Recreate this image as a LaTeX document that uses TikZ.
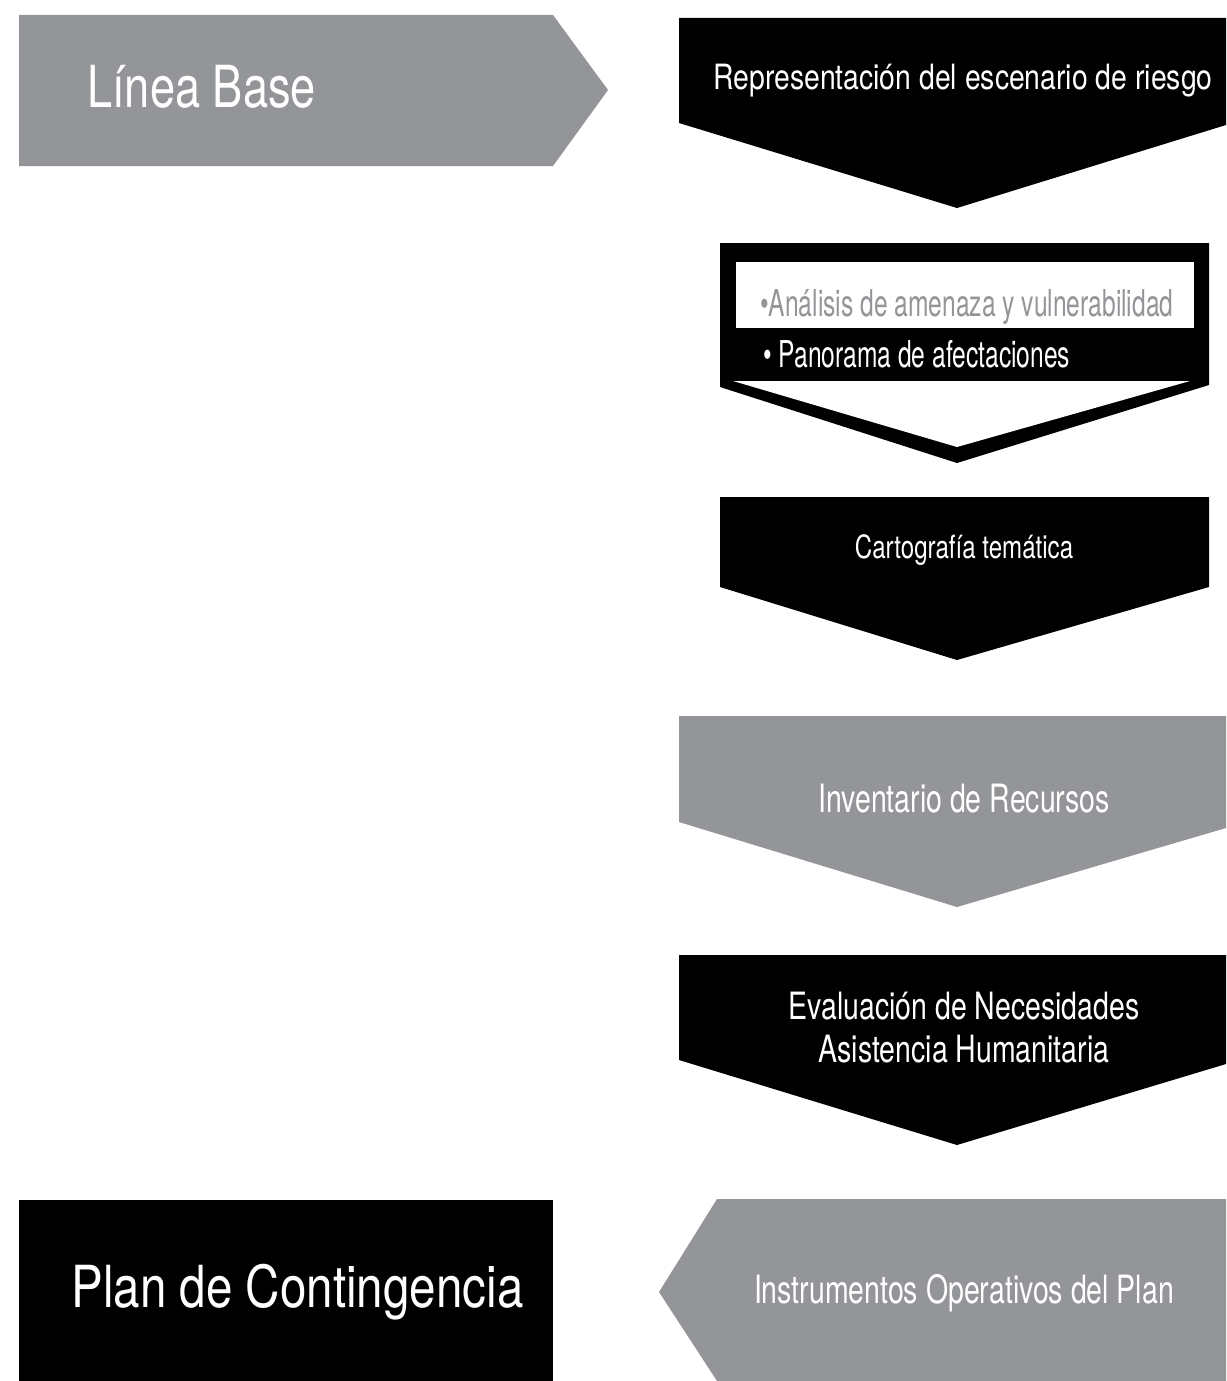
\documentclass[tikz,border=0pt]{standalone}
\usepackage{fontspec}
\setmainfont{TeX Gyre Heros}
\newfontfamily\fR{TeX Gyre Heros}[FakeStretch=0.815]
\newfontfamily\fB{TeX Gyre Heros}[FakeStretch=0.665]
\newfontfamily\fC{TeX Gyre Heros}[FakeStretch=0.753]
\newfontfamily\fI{TeX Gyre Heros}[FakeStretch=0.73]
\newfontfamily\fE{TeX Gyre Heros}[FakeStretch=0.757]
\newfontfamily\fL{TeX Gyre Heros}[FakeStretch=0.78]
\newfontfamily\fP{TeX Gyre Heros}[FakeStretch=0.82]
\definecolor{gr}{HTML}{939598}
\begin{document}
\begin{tikzpicture}[x=1pt,y=-1pt,
  txt/.style={text=white,inner sep=0pt},
  greyshape/.style={fill=gr},
  blackshape/.style={fill=black}]
\useasboundingbox (0,0) rectangle (1226,1381);
% Linea Base
\fill[greyshape] (19,15) -- (553,15) -- (608,90) -- (553,166) -- (19,166) -- cycle;
\node[txt,anchor=base west,font=\fL\fontsize{58}{66}\selectfont] (lb) at (87,107) {Línea Base};
% 1
\fill[blackshape] (679,18) -- (1226,18) -- (1226,125) -- (957,208) -- (679,123) -- cycle;
\node[txt,anchor=base,font=\fR\fontsize{34.8}{40}\selectfont] (t1) at (963,89) {Representación del escenario de riesgo};
% 2
\fill[blackshape] (720,243) -- (1209,243) -- (1209,385) -- (957,463) -- (720,387) -- cycle;
\fill[white] (736,262) rectangle (1194,328);
\fill[white] (733,381) -- (1190,381) -- (957,447) -- cycle;
\node[txt,anchor=base west,text=gr,font=\fB\fontsize{37}{44}\selectfont] (t2a) at (760,316) {\textbullet Análisis de amenaza y vulnerabilidad};
\node[txt,anchor=base west,font=\fB\fontsize{37}{44}\selectfont] (t2b) at (763,367) {\textbullet\ Panorama de afectaciones};
% 3
\fill[blackshape] (720,497) -- (1209,497) -- (1209,587) -- (957,660) -- (720,587) -- cycle;
\node[txt,anchor=base,font=\fC\fontsize{32}{38}\selectfont] (t3) at (964,558) {Cartografía temática};
% 4
\fill[greyshape] (679,716) -- (1226,716) -- (1226,828) -- (957,907) -- (679,822) -- cycle;
\node[txt,anchor=base,font=\fI\fontsize{39}{45}\selectfont] (t4) at (964,812) {Inventario de Recursos};
% 5
\fill[blackshape] (679,955) -- (1226,955) -- (1226,1064) -- (957,1145) -- (679,1060) -- cycle;
\node[txt,anchor=base,font=\fE\fontsize{37.6}{44}\selectfont] (t5) at (964,1019) {Evaluación de Necesidades};
\node[txt,anchor=base,font=\fE\fontsize{37.6}{44}\selectfont] (t5b) at (964,1062) {Asistencia Humanitaria};
% 6
\fill[greyshape] (717,1199) -- (1226,1199) -- (1226,1381) -- (717,1381) -- (659,1292) -- cycle;
\node[txt,anchor=base,font=\fI\fontsize{39}{45}\selectfont] (t6) at (964,1303) {Instrumentos Operativos del Plan};
% Plan
\fill[blackshape] (19,1200) rectangle (553,1381);
\node[txt,anchor=base,font=\fP\fontsize{58}{66}\selectfont] (pc) at (297.5,1307) {Plan de Contingencia};
\end{tikzpicture}
\end{document}
